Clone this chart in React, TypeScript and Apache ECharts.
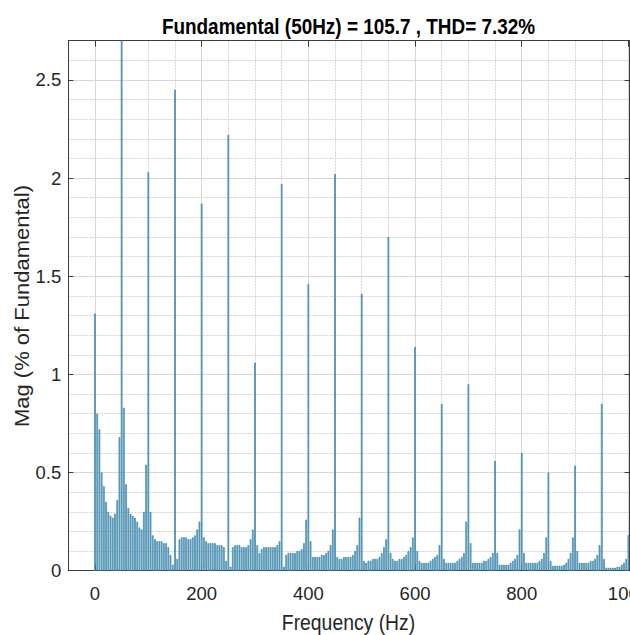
import React, { useEffect, useRef } from "react";
import * as echarts from "echarts";

const TITLE = "Fundamental (50Hz) = 105.7 , THD= 7.32%";
const X_NAME = "Frequency (Hz)";
const Y_NAME = "Mag (% of Fundamental)";
const X_TICKS = [0, 200, 400, 600, 800, 1000];
const Y_TICKS = [0, 0.5, 1, 1.5, 2, 2.5];
const X_MIN = -50;
const X_MAX = 1002;
const Y_MIN = 0;
const Y_MAX = 2.7;
const HARMONIC_HZ = 50;
const BINS_PER_HARMONIC = 12;

// Magnitudes (% of fundamental), one array per 50 Hz band: [harmonic, then the bins up to the next harmonic]
const MAG_0 = [1.31, 0.8, 0.72, 0.5, 0.43, 0.35, 0.3, 0.28, 0.27, 0.29, 0.36, 0.68];
const MAG_50 = [100, 0.83, 0.44, 0.32, 0.29, 0.28, 0.27, 0.25, 0.22, 0.21, 0.3, 0.54];
const MAG_100 = [2.03, 0.3, 0.18, 0.16, 0.15, 0.15, 0.15, 0.14, 0.14, 0.12, 0.08, 0.03];
const MAG_150 = [2.45, 0.06, 0.16, 0.17, 0.17, 0.17, 0.16, 0.16, 0.17, 0.18, 0.21, 0.25];
const MAG_200 = [1.87, 0.17, 0.15, 0.14, 0.14, 0.14, 0.14, 0.13, 0.13, 0.13, 0.12, 0.05];
const MAG_250 = [2.22, 0.02, 0.12, 0.13, 0.13, 0.13, 0.12, 0.12, 0.12, 0.13, 0.16, 0.21];
const MAG_300 = [1.06, 0.13, 0.09, 0.11, 0.12, 0.12, 0.12, 0.12, 0.12, 0.12, 0.13, 0.15];
const MAG_350 = [1.97, 0.02, 0.08, 0.09, 0.09, 0.09, 0.09, 0.1, 0.1, 0.11, 0.14, 0.26];
const MAG_400 = [1.46, 0.15, 0.07, 0.07, 0.07, 0.07, 0.08, 0.08, 0.09, 0.1, 0.13, 0.21];
const MAG_450 = [2.02, 0.07, 0.06, 0.06, 0.07, 0.07, 0.07, 0.07, 0.08, 0.1, 0.13, 0.27];
const MAG_500 = [1.41, 0.05, 0.04, 0.05, 0.05, 0.06, 0.06, 0.06, 0.07, 0.09, 0.12, 0.16];
const MAG_550 = [1.7, 0.09, 0.06, 0.05, 0.05, 0.06, 0.06, 0.07, 0.08, 0.1, 0.12, 0.17];
const MAG_600 = [1.14, 0.1, 0.05, 0.04, 0.04, 0.04, 0.04, 0.05, 0.06, 0.07, 0.08, 0.13];
const MAG_650 = [0.85, 0.06, 0.04, 0.04, 0.04, 0.04, 0.04, 0.05, 0.06, 0.07, 0.09, 0.25];
const MAG_700 = [0.95, 0.14, 0.04, 0.04, 0.04, 0.04, 0.04, 0.05, 0.05, 0.06, 0.07, 0.09];
const MAG_750 = [0.56, 0.09, 0.03, 0.03, 0.03, 0.03, 0.03, 0.04, 0.05, 0.06, 0.08, 0.21];
const MAG_800 = [0.6, 0.09, 0.04, 0.04, 0.04, 0.04, 0.04, 0.04, 0.05, 0.06, 0.09, 0.17];
const MAG_850 = [0.5, 0.05, 0.025, 0.025, 0.025, 0.025, 0.025, 0.03, 0.04, 0.06, 0.09, 0.17];
const MAG_900 = [0.535, 0.1, 0.04, 0.04, 0.04, 0.04, 0.04, 0.05, 0.05, 0.06, 0.08, 0.13];
const MAG_950 = [0.85, 0.06, 0.015, 0.015, 0.015, 0.015, 0.015, 0.02, 0.02, 0.03, 0.04, 0.06];
const MAG_1000 = [0.18];

const BANDS = [
  MAG_0, MAG_50, MAG_100, MAG_150, MAG_200, MAG_250, MAG_300, MAG_350, MAG_400,
  MAG_450, MAG_500, MAG_550, MAG_600, MAG_650, MAG_700, MAG_750, MAG_800, MAG_850,
  MAG_900, MAG_950, MAG_1000,
];

const FONT = '"Liberation Sans", Arial, Helvetica, sans-serif';

function buildBars(): [number, number][] {
  const out: [number, number][] = [];
  BANDS.forEach((band, k) => {
    band.forEach((v, j) => {
      out.push([k * HARMONIC_HZ + (j * HARMONIC_HZ) / BINS_PER_HARMONIC, v]);
    });
  });
  return out;
}

export default function App() {
  const ref = useRef<HTMLDivElement>(null);

  useEffect(() => {
    if (!ref.current) return;
    const chart = echarts.init(ref.current, undefined, { renderer: "svg" });
    const axisColor = "#3c3c3c";
    const transparent = "rgba(0,0,0,0)";
    const hidden = {
      axisLine: { show: false },
      axisTick: { show: false },
      axisLabel: { show: false },
    };
    const option: any = {
      animation: false,
      backgroundColor: "#ffffff",
      grid: {
        left: 68.3,
        top: 40.7,
        width: 561.2,
        height: 530,
        containLabel: false,
        outerBoundsMode: "none",
      },
      xAxis: [
        {
          type: "value",
          position: "bottom",
          min: X_MIN,
          max: X_MAX,
          interval: 50,
          axisLine: { show: true, onZero: false, lineStyle: { color: axisColor, width: 1 } },
          axisTick: {
            show: true,
            inside: true,
            length: 6,
            customValues: X_TICKS,
            lineStyle: { color: axisColor },
          },
          axisLabel: {
            show: true,
            margin: 13,
            color: "#262626",
            fontSize: 18.5,
            fontFamily: FONT,
            formatter: (v: number) => (X_TICKS.indexOf(v) >= 0 ? String(v) : ""),
          },
          splitLine: { show: false },
        },
        {
          type: "value",
          position: "top",
          min: X_MIN,
          max: X_MAX,
          interval: 50,
          axisLine: { show: true, onZero: false, lineStyle: { color: axisColor, width: 1 } },
          axisTick: {
            show: true,
            inside: true,
            length: 6,
            customValues: X_TICKS,
            lineStyle: { color: axisColor },
          },
          axisLabel: { show: false },
          splitLine: { show: false },
        },
        {
          type: "value",
          position: "bottom",
          min: X_MIN,
          max: X_MAX,
          interval: 50,
          ...hidden,
          splitLine: { show: true, lineStyle: { color: "#d4d4d4", width: 1, type: [2, 1] } },
        },
        {
          type: "value",
          position: "bottom",
          min: X_MIN,
          max: X_MAX,
          interval: 50,
          ...hidden,
          splitLine: {
            show: true,
            lineStyle: { color: [transparent, "#d8d8d8", transparent, transparent], width: 1 },
          },
        },
      ],
      yAxis: [
        {
          type: "value",
          position: "left",
          min: Y_MIN,
          max: Y_MAX,
          interval: 0.5,
          axisLine: { show: true, onZero: false, lineStyle: { color: axisColor, width: 1 } },
          axisTick: { show: true, inside: true, length: 5, lineStyle: { color: axisColor } },
          axisLabel: {
            show: true,
            margin: 7,
            color: "#262626",
            fontSize: 18.5,
            fontFamily: FONT,
            formatter: (v: number) => {
              const hit = Y_TICKS.find((t) => Math.abs(t - v) < 1e-6);
              return hit === undefined ? "" : String(hit);
            },
          },
          splitLine: { show: false },
        },
        {
          type: "value",
          position: "right",
          min: Y_MIN,
          max: Y_MAX,
          interval: 0.5,
          axisLine: { show: true, onZero: false, lineStyle: { color: axisColor, width: 1 } },
          axisTick: { show: true, inside: true, length: 5, lineStyle: { color: axisColor } },
          axisLabel: { show: false },
          splitLine: { show: false },
        },
        {
          type: "value",
          position: "left",
          min: Y_MIN,
          max: Y_MAX,
          interval: 0.1,
          ...hidden,
          splitLine: { show: true, lineStyle: { color: "#d4d4d4", width: 1, type: [2, 1] } },
        },
        {
          type: "value",
          position: "left",
          min: Y_MIN,
          max: Y_MAX,
          interval: 0.5,
          ...hidden,
          splitLine: { show: true, lineStyle: { color: "#d8d8d8", width: 1 } },
        },
      ],
      series: [
        {
          type: "bar",
          xAxisIndex: 0,
          yAxisIndex: 0,
          data: buildBars(),
          barWidth: 1.6,
          clip: true,
          silent: true,
          itemStyle: { color: "#72bcdc", borderColor: "#2c7498", borderWidth: 0.6 },
        },
      ],
      graphic: [
        {
          type: "text",
          x: 348.5,
          y: 27,
          scaleX: 0.88,
          style: {
            text: TITLE,
            x: 0,
            y: 0,
            fontFamily: FONT,
            fontSize: 21.5,
            fontWeight: "bold",
            fill: "#000000",
            align: "center",
            verticalAlign: "middle",
            textAlign: "center",
            textVerticalAlign: "middle",
          },
        },
        {
          type: "text",
          x: 348.5,
          y: 622,
          scaleX: 0.88,
          style: {
            text: X_NAME,
            x: 0,
            y: 0,
            fontFamily: FONT,
            fontSize: 22,
            fill: "#262626",
            align: "center",
            verticalAlign: "middle",
            textAlign: "center",
            textVerticalAlign: "middle",
          },
        },
        {
          type: "text",
          x: 22,
          y: 306,
          rotation: Math.PI / 2,
          scaleY: 0.88,
          style: {
            text: Y_NAME,
            x: 0,
            y: 0,
            fontFamily: FONT,
            fontSize: 22,
            fill: "#262626",
            align: "center",
            verticalAlign: "middle",
            textAlign: "center",
            textVerticalAlign: "middle",
          },
        },
      ],
    };
    chart.setOption(option);
    return () => chart.dispose();
  }, []);

  return (
    <div
      style={{
        position: "fixed",
        left: 0,
        top: 0,
        width: 630,
        height: 635,
        overflow: "hidden",
        background: "#ffffff",
      }}
    >
      <div ref={ref} style={{ width: 640, height: 635 }} />
    </div>
  );
}
